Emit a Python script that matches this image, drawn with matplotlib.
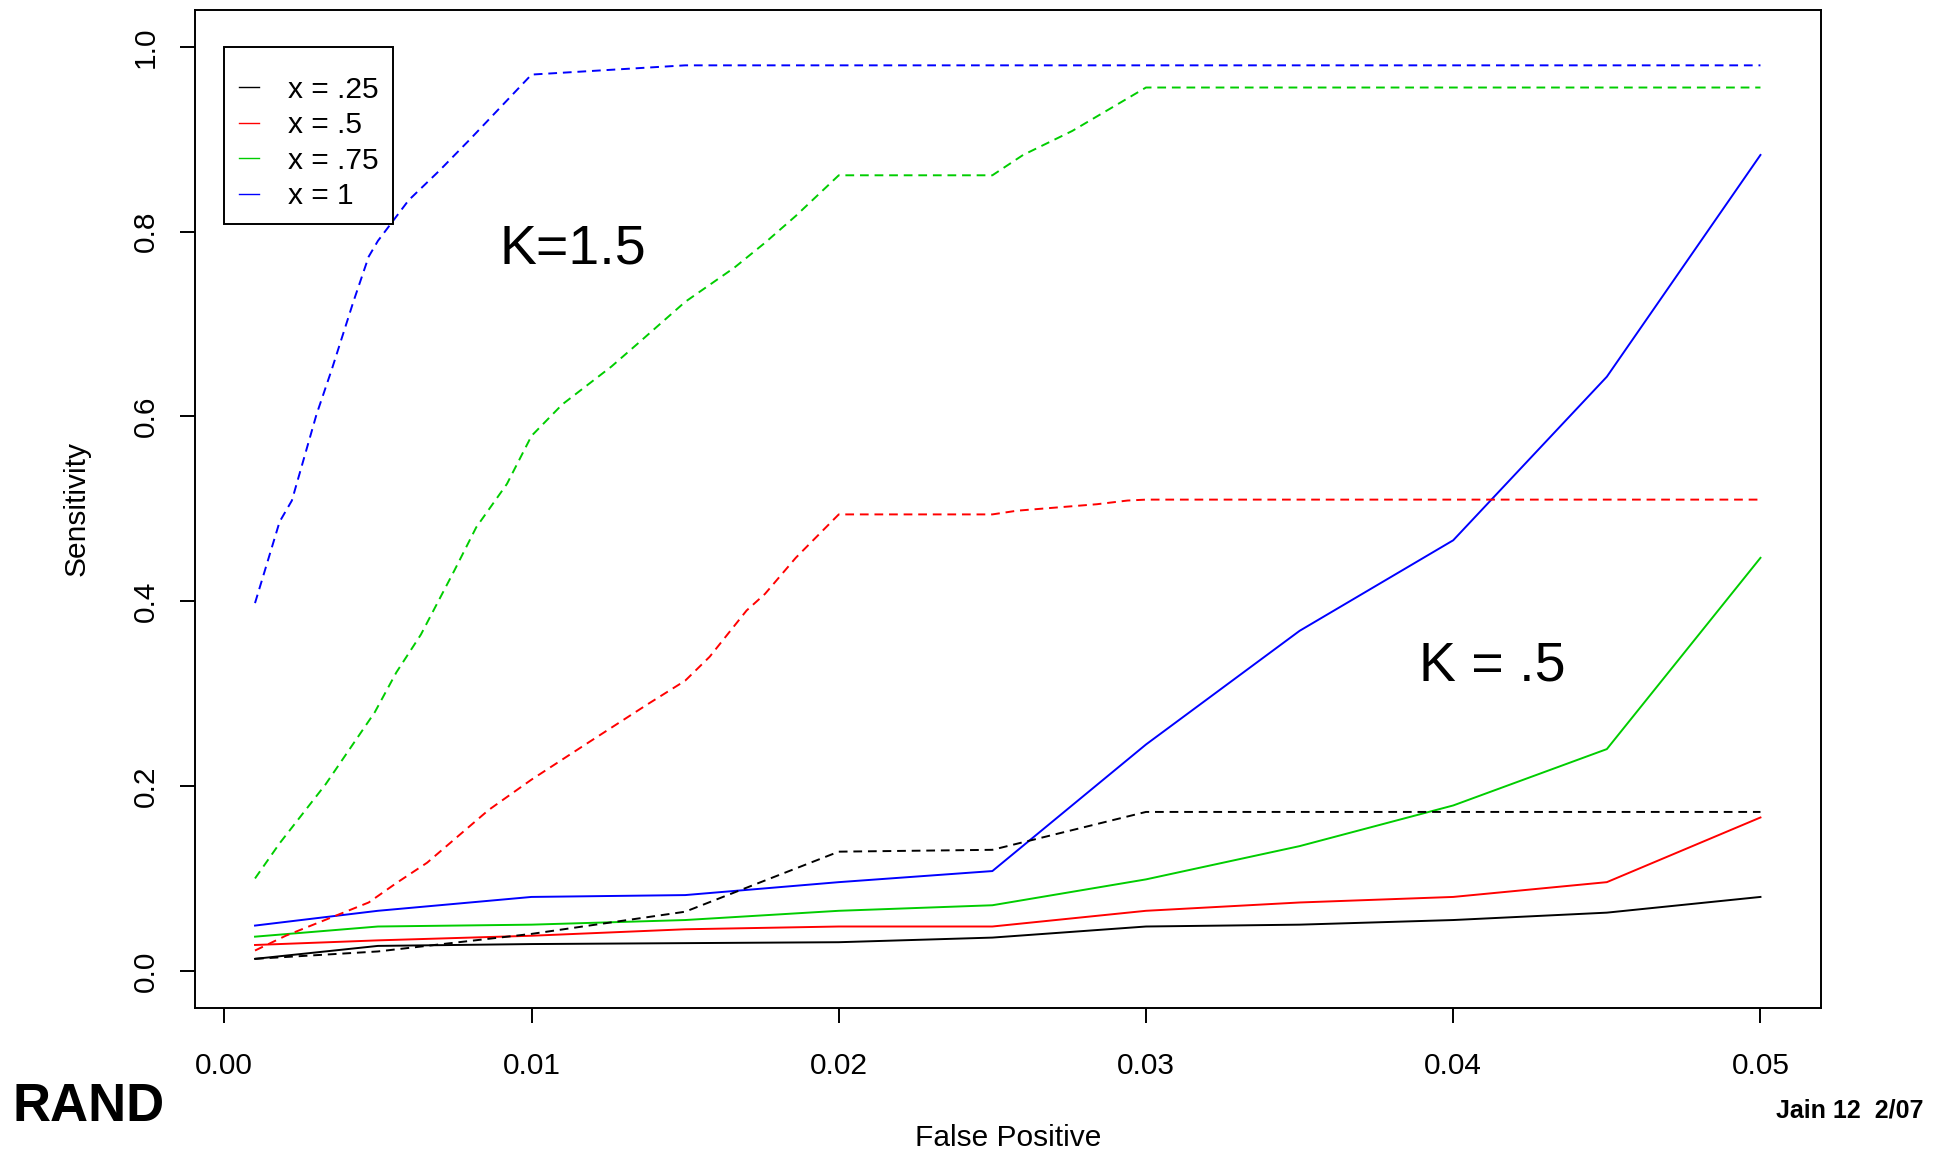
import numpy as np
import matplotlib
matplotlib.use("Agg")
import matplotlib.pyplot as plt

plt.rcParams['font.family'] = ['Liberation Sans', 'DejaVu Sans']

# solid lines: K = .5, sampled every 0.005
fp_solid = [0.001, 0.005, 0.010, 0.015, 0.020, 0.025, 0.030, 0.035, 0.040, 0.045, 0.050]
k05_x025 = [0.013, 0.027, 0.029, 0.030, 0.031, 0.036, 0.048, 0.050, 0.055, 0.063, 0.080]
k05_x05 = [0.028, 0.033, 0.038, 0.045, 0.048, 0.048, 0.065, 0.074, 0.080, 0.096, 0.166]
k05_x075 = [0.037, 0.048, 0.050, 0.055, 0.065, 0.071, 0.099, 0.135, 0.179, 0.240, 0.447]
k05_x1 = [0.049, 0.065, 0.080, 0.082, 0.096, 0.108, 0.245, 0.368, 0.466, 0.643, 0.883]

# dashed lines: K = 1.5
fp_k15_x025 = [0.001, 0.005, 0.010, 0.015, 0.020, 0.025, 0.030, 0.035, 0.040, 0.045, 0.050]
k15_x025 = [0.013, 0.021, 0.040, 0.064, 0.129, 0.131, 0.172, 0.172, 0.172, 0.172, 0.172]

fp_k15_x05 = [0.001, 0.002, 0.0047, 0.0056, 0.0066, 0.0086, 0.010, 0.0118, 0.0138, 0.015,
              0.0158, 0.017, 0.0176, 0.0186, 0.020, 0.025, 0.0258, 0.0284, 0.0294, 0.030,
              0.035, 0.040, 0.045, 0.050]
k15_x05 = [0.022, 0.038, 0.074, 0.095, 0.117, 0.174, 0.207, 0.246, 0.289, 0.314,
           0.340, 0.390, 0.408, 0.447, 0.494, 0.494, 0.498, 0.505, 0.509, 0.510,
           0.510, 0.510, 0.510, 0.510]

fp_k15_x075 = [0.001, 0.0018, 0.0033, 0.0049, 0.0056, 0.0064, 0.0075, 0.0082, 0.0092, 0.010,
               0.011, 0.0126, 0.0136, 0.015, 0.0166, 0.0176, 0.0186, 0.020, 0.025, 0.026,
               0.0276, 0.030, 0.035, 0.040, 0.045, 0.050]
k15_x075 = [0.100, 0.138, 0.202, 0.280, 0.323, 0.364, 0.434, 0.480, 0.527, 0.579,
            0.613, 0.654, 0.683, 0.724, 0.761, 0.788, 0.817, 0.861, 0.861, 0.883,
            0.909, 0.956, 0.956, 0.956, 0.956, 0.956]

fp_k15_x1 = [0.001, 0.0013, 0.0018, 0.0022, 0.003, 0.0035, 0.0042, 0.0047, 0.005, 0.006,
             0.007, 0.008, 0.010, 0.015, 0.020, 0.025, 0.030, 0.035, 0.040, 0.045, 0.050]
k15_x1 = [0.398, 0.431, 0.486, 0.509, 0.602, 0.651, 0.724, 0.773, 0.790, 0.834,
          0.866, 0.900, 0.970, 0.980, 0.980, 0.980, 0.980, 0.980, 0.980, 0.980, 0.980]

labels = ['x = .25', 'x = .5', 'x = .75', 'x = 1']
colors = ['black', '#FF0000', '#00CD00', '#0000FF']

fig = plt.figure(figsize=(19.46, 11.51), dpi=100)
ax = fig.add_axes([0.1001, 0.1244, 0.8355, 0.8670])

lw = 1.4
solids = [k05_x025, k05_x05, k05_x075, k05_x1]
for ys, c, lab in zip(solids, colors, labels):
    ax.plot(fp_solid, ys, color=c, lw=lw, label=lab)

dashed = [(fp_k15_x025, k15_x025), (fp_k15_x05, k15_x05),
          (fp_k15_x075, k15_x075), (fp_k15_x1, k15_x1)]
for (xs, ys), c in zip(dashed, colors):
    ax.plot(xs, ys, color=c, lw=lw, linestyle=(0, (4.5, 3)))

ax.set_xlim(-0.00096, 0.05196)
ax.set_ylim(-0.04, 1.04)
ax.set_xticks([0.00, 0.01, 0.02, 0.03, 0.04, 0.05])
ax.set_xticklabels(['0.00', '0.01', '0.02', '0.03', '0.04', '0.05'])
ax.set_yticks([0.0, 0.2, 0.4, 0.6, 0.8, 1.0])
ax.set_yticklabels(['0.0', '0.2', '0.4', '0.6', '0.8', '1.0'], rotation=90, va='center')
ax.tick_params(axis='both', direction='out', length=11, width=1.4, labelsize=21.5)
ax.tick_params(axis='x', pad=21)
ax.tick_params(axis='y', pad=14)
for s in ax.spines.values():
    s.set_linewidth(1.4)

ax.set_xlabel('False Positive', fontsize=21.5, va='center')
ax.xaxis.set_label_coords(0.5, -0.13)
ax.set_ylabel('Sensitivity', fontsize=21.5, va='center')
ax.yaxis.set_label_coords(-0.0725, 0.5)

ax.text(0.01136, 0.781, 'K=1.5', fontsize=40, ha='center', va='center')
ax.text(0.04126, 0.329, 'K = .5', fontsize=40, ha='center', va='center')

# blank tiny title gives the extra room above the first entry, as in R's legend()
leg = ax.legend(loc='upper left', bbox_to_anchor=(0.0, 1.0), bbox_transform=ax.transData,
                borderaxespad=0, fontsize=21.5, handlelength=0.67, handletextpad=1.0,
                labelspacing=0.25, borderpad=0.48, fancybox=False, framealpha=1,
                edgecolor='black', title=' ', title_fontsize=5)
leg.get_frame().set_linewidth(1.4)
for h in leg.get_lines():
    h.set_linewidth(1.0)

fig.text(12 / 1946, 1 - 1121 / 1151, 'RAND', fontsize=38, fontweight='bold',
         ha='left', va='baseline')
fig.text(1924 / 1946, 1 - 1117 / 1151, 'Jain 12  2/07', fontsize=18, fontweight='bold',
         ha='right', va='baseline')

fig.savefig('out.png', dpi=100)
